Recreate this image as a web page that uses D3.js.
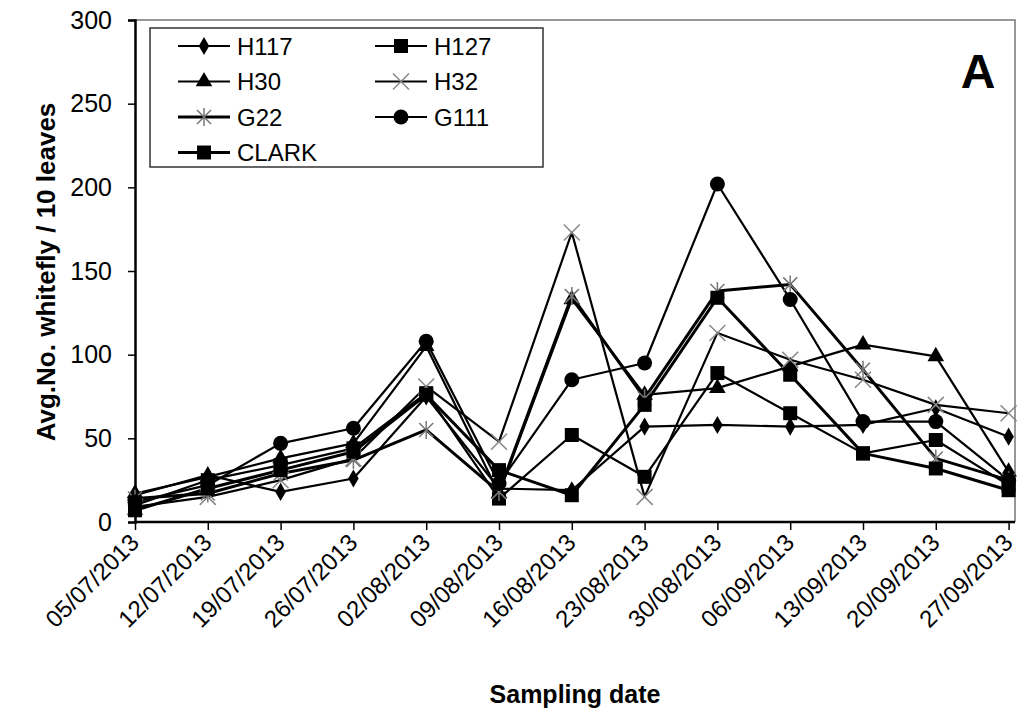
<!DOCTYPE html>
<html>
<head>
<meta charset="utf-8">
<script src="https://cdn.jsdelivr.net/npm/d3@7"></script>
<style>
  body { margin: 0; background: #fff; }
  text { font-family: "Liberation Sans", Arial, sans-serif; }
</style>
</head>
<body>
<svg></svg>
<script>
// Data
const dates = ["05/07/2013", "12/07/2013", "19/07/2013", "26/07/2013", "02/08/2013", "09/08/2013", "16/08/2013",
               "23/08/2013", "30/08/2013", "06/09/2013", "13/09/2013", "20/09/2013", "27/09/2013"];
const H117  = [16, 28, 18, 26, 75, 20, 19, 57, 58, 57, 58, 68, 51];
const H127  = [10, 25, 34, 44, 77, 14, 52, 27, 89, 65, 41, 49, 22];
const H30   = [17, 27, 38, 47, 105, 17, 133, 76, 80, 93, 106, 99, 30];
const H32   = [9, 15, 25, 38, 81, 48, 173, 15, 113, 97, 85, 70, 65];
const G22   = [14, 17, 29, 37, 55, 18, 135, 74, 138, 142, 91, 38, 25];
const G111  = [12, 22, 47, 56, 108, 23, 85, 95, 202, 133, 60, 60, 25];
const CLARK = [7, 20, 31, 42, 76, 31, 16, 70, 134, 88, 41, 32, 19];
const yTicks = [0, 50, 100, 150, 200, 250, 300];

const series = [
  { name: "H117", values: H117, marker: "diamond" },
  { name: "H127", values: H127, marker: "square" },
  { name: "H30", values: H30, marker: "triangle" },
  { name: "H32", values: H32, marker: "x" },
  { name: "G22", values: G22, marker: "star" },
  { name: "G111", values: G111, marker: "circle" },
  { name: "CLARK", values: CLARK, marker: "square" }
];

const svgWidth = 1017, svgHeight = 711;
const plot = { left: 135, right: 1015, top: 20, bottom: 522 };

const svg = d3.select("svg")
    .attr("width", svgWidth)
    .attr("height", svgHeight);

const xScale = d3.scalePoint().domain(dates).range([plot.left, 1008.6]);
const yScale = d3.scaleLinear().domain([0, 300]).range([plot.bottom, plot.top]);

// Plot frame (top and right, thin grey)
svg.append("path")
    .attr("d", `M${plot.left},${plot.top}H${plot.right}V${plot.bottom}`)
    .attr("fill", "none")
    .attr("stroke", "#777")
    .attr("stroke-width", 1.5);

// Y axis
const yAxis = svg.append("g")
    .attr("transform", `translate(${plot.left},0)`)
    .call(d3.axisLeft(yScale).tickValues(yTicks).tickSize(7).tickPadding(16));
yAxis.select(".domain").attr("stroke-width", 2.5);
yAxis.selectAll(".tick line").attr("stroke-width", 1.5);
yAxis.selectAll("text")
    .attr("font-size", 25)
    .attr("font-family", "Liberation Sans, Arial, sans-serif")
    .attr("fill", "#000");

// X axis
const xAxis = svg.append("g")
    .attr("transform", `translate(0,${plot.bottom})`)
    .call(d3.axisBottom(xScale).tickSize(8).tickSizeOuter(0));
xAxis.select(".domain").attr("d", `M${plot.left},0H${plot.right}`).attr("stroke-width", 2.5);
xAxis.selectAll(".tick line").attr("stroke-width", 1.5);
xAxis.selectAll("text")
    .attr("font-size", 24)
    .attr("font-family", "Liberation Sans, Arial, sans-serif")
    .attr("fill", "#000")
    .attr("text-anchor", "end")
    .attr("x", 0)
    .attr("y", 0)
    .attr("dy", 0)
    .attr("transform", "translate(5,22) rotate(-45)");

// Axis labels
svg.append("text")
    .attr("x", 575)
    .attr("y", 703)
    .attr("text-anchor", "middle")
    .attr("font-size", 25)
    .attr("font-weight", "bold")
    .text("Sampling date");

svg.append("text")
    .attr("transform", "rotate(-90)")
    .attr("x", -272)
    .attr("y", 55)
    .attr("text-anchor", "middle")
    .attr("font-size", 26)
    .attr("font-weight", "bold")
    .text("Avg.No. whitefly / 10 leaves");

svg.append("text")
    .attr("x", 978)
    .attr("y", 88)
    .attr("text-anchor", "middle")
    .attr("font-size", 48)
    .attr("font-weight", "bold")
    .text("A");

// Marker drawing
function drawMarker(g, type, x, y) {
  if (type === "diamond") {
    g.append("path").attr("d", d3.symbol(d3.symbolDiamond, 95)())
      .attr("transform", `translate(${x},${y})`).attr("fill", "#000");
  } else if (type === "square") {
    g.append("rect").attr("x", x - 7).attr("y", y - 7).attr("width", 14).attr("height", 14).attr("fill", "#000");
  } else if (type === "triangle") {
    g.append("path").attr("d", d3.symbol(d3.symbolTriangle, 120)())
      .attr("transform", `translate(${x},${y})`).attr("fill", "#000");
  } else if (type === "circle") {
    g.append("circle").attr("cx", x).attr("cy", y).attr("r", 7.5).attr("fill", "#000");
  } else if (type === "x") {
    g.append("path").attr("d", `M${x - 8},${y - 8}L${x + 8},${y + 8}M${x - 8},${y + 8}L${x + 8},${y - 8}`)
      .attr("stroke", "#888").attr("stroke-width", 1.5);
  } else if (type === "star") {
    g.append("path").attr("d", `M${x - 7},${y - 7}L${x + 7},${y + 7}M${x - 7},${y + 7}L${x + 7},${y - 7}M${x},${y - 9}V${y + 9}`)
      .attr("stroke", "#777").attr("stroke-width", 1.5);
  }
}

const line = d3.line()
    .x((d, i) => xScale(dates[i]))
    .y(d => yScale(d));

const linesG = svg.append("g");
series.forEach(s => {
  linesG.append("path")
      .datum(s.values)
      .attr("d", line)
      .attr("fill", "none")
      .attr("stroke", "#000")
      .attr("stroke-width", s.name === "G22" || s.name === "CLARK" ? 3 : 2.2)
      .attr("stroke-linejoin", "round");
});
series.forEach(s => {
  const g = svg.append("g");
  s.values.forEach((v, i) => drawMarker(g, s.marker, xScale(dates[i]), yScale(v)));
});

// Legend
const legend = svg.append("g");
legend.append("rect")
    .attr("x", 150).attr("y", 28).attr("width", 393).attr("height", 139)
    .attr("fill", "#fff").attr("stroke", "#333").attr("stroke-width", 1.5);

series.forEach((s, i) => {
  const col = i % 2, row = Math.floor(i / 2);
  const x0 = col === 0 ? 178 : 375;
  const y0 = 46 + row * 35.5;
  legend.append("line")
      .attr("x1", x0).attr("x2", x0 + 52).attr("y1", y0).attr("y2", y0)
      .attr("stroke", "#000").attr("stroke-width", s.name === "G22" || s.name === "CLARK" ? 3 : 2);
  drawMarker(legend, s.marker, x0 + 26, y0);
  legend.append("text")
      .attr("x", x0 + 59).attr("y", y0 + 8.5)
      .attr("font-size", 24)
      .text(s.name);
});
</script>
</body>
</html>
